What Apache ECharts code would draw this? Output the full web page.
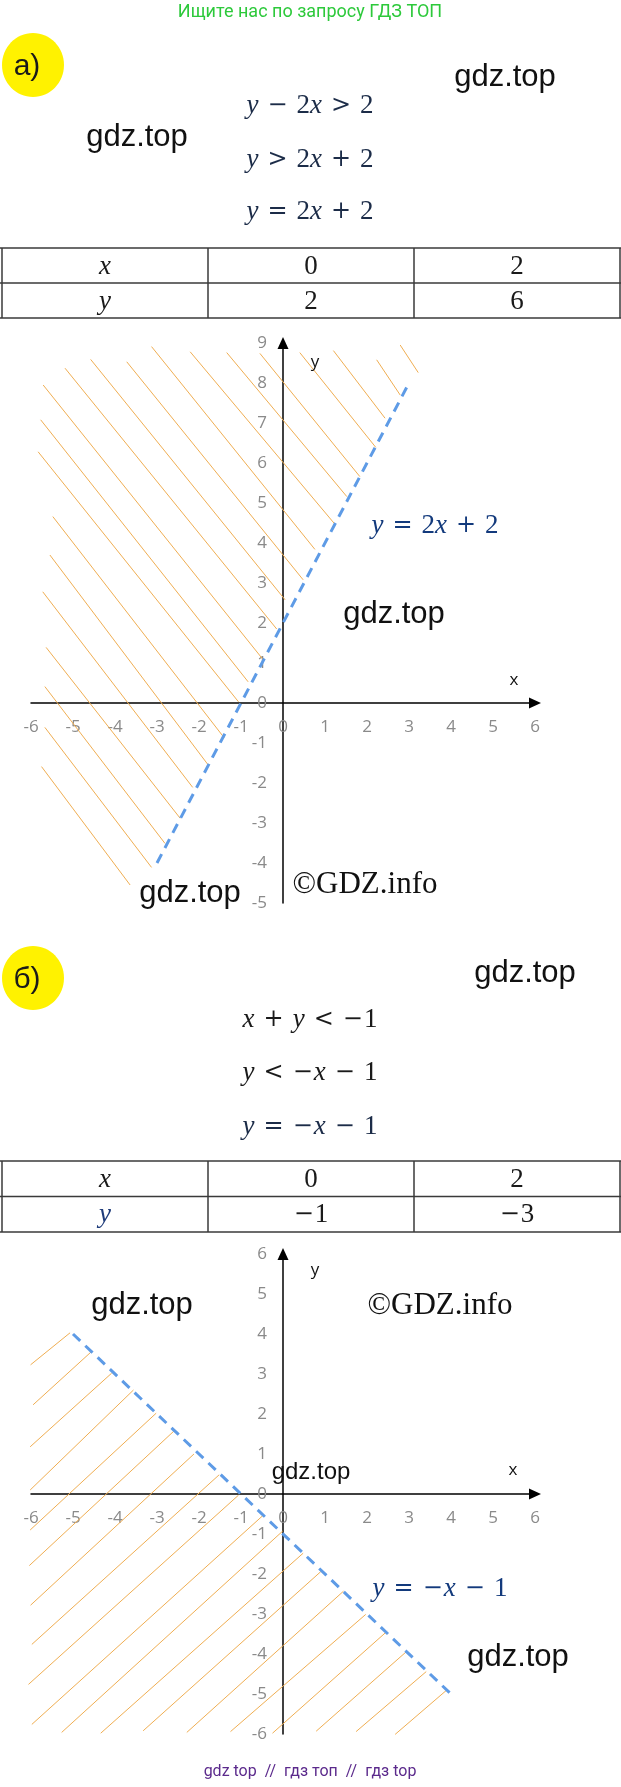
<!DOCTYPE html>
<html><head><meta charset="utf-8">
<script src="https://cdn.jsdelivr.net/npm/echarts@6/dist/echarts.min.js"></script>
<style>html,body{margin:0;padding:0;background:#fff}#c{width:621px;height:1787px}</style>
</head><body><div id="c"></div>
<script>
// ---- data ----
const xRange = [-6, 6];
const yRangeA = [-5, 9];
const yRangeB = [-6, 6];
const boundaryA = [[-3, -4], [3, 8]];
const boundaryB = [[-5, 4], [4, -5]];
const hatchA = [
  [2.79, 8.95, 3.22, 8.26], [2.23, 8.58, 2.79, 7.70], [1.20, 8.81, 2.43, 7.12],
  [0.40, 8.76, 2.21, 6.39], [-0.55, 8.74, 1.83, 5.66], [-1.34, 8.76, 1.52, 5.16],
  [-2.21, 8.78, 1.22, 4.49], [-3.13, 8.91, 0.76, 3.84], [-3.72, 8.53, 0.48, 3.08],
  [-4.58, 8.59, 0.05, 2.58], [-5.19, 8.37, -0.15, 1.85], [-5.71, 7.95, -0.47, 1.08],
  [-5.77, 7.08, -0.83, 0.53], [-5.83, 6.28, -1.06, 0.03], [-5.48, 4.66, -1.40, -0.87],
  [-5.55, 3.70, -1.78, -1.55], [-5.72, 2.78, -2.15, -2.11], [-5.64, 1.39, -2.45, -2.88],
  [-5.67, 0.41, -2.81, -3.51], [-5.67, -0.61, -3.13, -4.11], [-5.75, -1.59, -3.64, -4.55]
];
const hatchB = [
  [-6.01, 3.23, -5.07, 4.03], [-5.95, 2.23, -4.56, 3.56], [-6.02, 1.18, -4.08, 3.02],
  [-6.02, 0.10, -3.56, 2.60], [-6.02, -0.90, -3.02, 2.02], [-6.04, -1.79, -2.57, 1.60],
  [-6.01, -2.78, -2.12, 1.00], [-5.98, -3.76, -1.52, 0.48], [-6.06, -4.76, -1.06, -0.03],
  [-5.98, -5.76, -0.47, -0.53], [-5.27, -5.96, -0.01, -0.93], [-4.34, -5.98, 0.48, -1.48],
  [-3.33, -5.92, 0.90, -1.94], [-2.29, -5.96, 1.44, -2.43], [-1.25, -5.94, 1.97, -3.01],
  [-0.25, -5.98, 2.48, -3.43], [0.79, -5.93, 2.95, -3.93], [1.74, -5.94, 3.41, -4.44],
  [2.67, -6.01, 3.90, -4.90]
];
const tableA = [['x', '0', '2'], ['y', '2', '6']];
const tableB = [['x', '0', '2'], ['y', '−1', '−3']];
const eqA = ['y − 2x > 2', 'y > 2x + 2', 'y = 2x + 2'];
const eqB = ['x + y < −1', 'y < −x − 1', 'y = −x − 1'];
const lineLabelA = 'y = 2x + 2';
const lineLabelB = 'y = −x − 1';
const headerText = 'Ищите нас по запросу ГДЗ ТОП';
const footerText = 'gdz top  //  гдз топ  //  гдз top';

// ---- layout ----
const gridA = {left: 31, top: 343, width: 504, height: 560};
const gridB = {left: 31, top: 1254, width: 504, height: 480};

// ---- helpers ----
const SERIF = '"Liberation Serif", "DejaVu Serif", serif';
const OPFONT = '"DejaVu Serif", "Liberation Serif", serif';
const SANS = '"Liberation Sans", Arial, sans-serif';
function toRich(str) {
  const chars = str.replace(/ /g, '').split('');
  let out = '';
  let prevOp = true;
  for (const c of chars) {
    if (/[a-z]/.test(c)) { out += '{v|' + c + '}'; prevOp = false; }
    else if (/[0-9]/.test(c)) { out += '{n|' + c + '}'; prevOp = false; }
    else { out += prevOp ? '{u|' + c + '}' : '{o|' + c + '}'; prevOp = true; }
  }
  return out;
}
function richStyles(size, color) {
  return {
    v: {fontFamily: SERIF, fontStyle: 'italic', fontSize: size, fill: color},
    n: {fontFamily: SERIF, fontSize: size, fill: color},
    u: {fontFamily: OPFONT, fontSize: size - 3, fill: color, padding: [0, 1, 0, 0]},
    o: {fontFamily: OPFONT, fontSize: size - 3, fill: color, padding: [0, 9]}
  };
}
function mathText(str, x, y, size, color) {
  return {type: 'text', z: 50, style: {text: toRich(str), x: x, y: y, align: 'center', verticalAlign: 'middle', rich: richStyles(size, color)}};
}
function plainText(str, x, y, font, color, z) {
  return {type: 'text', z: z || 50, style: {text: str, x: x, y: y, font: font, fill: color, align: 'center', verticalAlign: 'middle'}};
}
function tableGraphics(tbl, top, rowH, textColors) {
  const cols = [2, 208, 414, 620];
  const els = [];
  const lc = '#3a3a3a';
  for (let r = 0; r <= tbl.length; r++) {
    els.push({type: 'line', z: 40, shape: {x1: 0, y1: top + r * rowH, x2: 621, y2: top + r * rowH}, style: {stroke: lc, lineWidth: 1.5}});
  }
  cols.forEach(cx => els.push({type: 'line', z: 40, shape: {x1: cx, y1: top, x2: cx, y2: top + tbl.length * rowH}, style: {stroke: lc, lineWidth: 1.5}}));
  tbl.forEach((row, r) => row.forEach((cell, c) => {
    const cxm = (cols[c] + cols[c + 1]) / 2;
    const cym = top + r * rowH + rowH / 2 + 1;
    const color = (textColors && textColors[r] && textColors[r][c]) || '#1a1a1a';
    els.push(mathText(cell, cxm, cym, 27, color));
  }));
  return els;
}

// place each axis line through the other axis' zero using offset
function axesFor(gridIndex, grid, yr) {
  const xUnit = grid.width / (xRange[1] - xRange[0]);
  const yUnit = grid.height / (yr[1] - yr[0]);
  const zeroXpx = grid.left + (0 - xRange[0]) * xUnit;   // where y axis sits
  const zeroYpx = grid.top + (yr[1] - 0) * yUnit;        // where x axis sits
  const common = {
    type: 'value', gridIndex: gridIndex, interval: 1,
    axisLine: {onZero: false, symbol: ['none', 'triangle'], symbolSize: [11, 12], lineStyle: {color: '#000', width: 1.5}},
    axisTick: {show: false}, splitLine: {show: false},
    axisLabel: {color: '#8a8a8a', fontSize: 17, fontFamily: '"Open Sans", sans-serif'}
  };
  return {
    x: Object.assign({}, common, {min: xRange[0], max: xRange[1], position: 'bottom',
      offset: -((grid.top + grid.height) - zeroYpx),
      axisLabel: Object.assign({}, common.axisLabel, {margin: 16})}),
    y: Object.assign({}, common, {min: yr[0], max: yr[1], position: 'left',
      offset: -(zeroXpx - grid.left),
      axisLabel: Object.assign({}, common.axisLabel, {margin: 16})})
  };
}
const axA = axesFor(0, gridA, yRangeA), axB = axesFor(1, gridB, yRangeB);
const hatchColor = '#F0AE52';
const dashColor = '#5E9BE6';

function hatchSeries(segs, idx) {
  return {
    type: 'lines', coordinateSystem: 'cartesian2d', xAxisIndex: idx, yAxisIndex: idx,
    clip: false, silent: true, z: 1,
    lineStyle: {color: hatchColor, width: 1, opacity: 1, curveness: 0},
    data: segs.map(s => ({coords: [[s[0], s[1]], [s[2], s[3]]]}))
  };
}
function boundarySeries(pts, idx) {
  return {
    type: 'line', xAxisIndex: idx, yAxisIndex: idx, data: pts, showSymbol: false, symbol: 'none', clip: false, z: 3,
    lineStyle: {color: dashColor, width: 3, type: [10, 7]}
  };
}

const graphics = [
  plainText(headerText, 310, 12, '18px Roboto, sans-serif', '#2DC93B'),
  // part a
  {type: 'ellipse', z: 30, shape: {cx: 33, cy: 65, rx: 31, ry: 32}, style: {fill: '#FFF200'}},
  plainText('а)', 27, 67, '30px "Liberation Sans", Arial, sans-serif', '#1a1a1a'),
  plainText('gdz.top', 505, 77, '31px ' + SANS, '#111'),
  plainText('gdz.top', 137, 137, '31px ' + SANS, '#111'),
  mathText(eqA[0], 310, 106, 27, '#1c2c48'),
  mathText(eqA[1], 310, 160, 27, '#1c2c48'),
  mathText(eqA[2], 310, 212, 27, '#1c2c48'),
  ...tableGraphics(tableA, 248, 35),
  plainText('y', 315, 362, '17px "Open Sans", sans-serif', '#111'),
  plainText('x', 514, 680, '17px "Open Sans", sans-serif', '#111'),
  mathText(lineLabelA, 435, 526, 27, '#133a7c'),
  plainText('gdz.top', 394, 614, '31px ' + SANS, '#111'),
  plainText('gdz.top', 190, 893, '31px ' + SANS, '#111'),
  plainText('©GDZ.info', 365, 885, '31px ' + SERIF, '#111'),
  // part b
  {type: 'ellipse', z: 30, shape: {cx: 33, cy: 978, rx: 31, ry: 32}, style: {fill: '#FFF200'}},
  plainText('б)', 27, 980, '30px "Liberation Sans", Arial, sans-serif', '#1a1a1a'),
  plainText('gdz.top', 525, 973, '31px ' + SANS, '#111'),
  mathText(eqB[0], 310, 1020, 27, '#1a1a1a'),
  mathText(eqB[1], 310, 1073, 27, '#1a1a1a'),
  mathText(eqB[2], 310, 1127, 27, '#1c2c48'),
  ...tableGraphics(tableB, 1161, 35.5, [null, ['#1f3c7a', null, null]]),
  plainText('y', 315, 1270, '17px "Open Sans", sans-serif', '#111'),
  plainText('x', 513, 1470, '17px "Open Sans", sans-serif', '#111'),
  plainText('gdz.top', 142, 1305, '31px ' + SANS, '#111'),
  plainText('©GDZ.info', 440, 1306, '31px ' + SERIF, '#111'),
  plainText('gdz.top', 311, 1472, '24px ' + SANS, '#111'),
  mathText(lineLabelB, 440, 1589, 27, '#133a7c'),
  plainText('gdz.top', 518, 1657, '31px ' + SANS, '#111'),
  plainText(footerText, 310, 1772, '16px Roboto, sans-serif', '#5b2a8c')
];

const chart = echarts.init(document.getElementById('c'), null, {renderer: 'canvas', width: 621, height: 1787});
chart.setOption({
  animation: false,
  backgroundColor: '#fff',
  grid: [gridA, gridB],
  xAxis: [axA.x, axB.x],
  yAxis: [axA.y, axB.y],
  series: [
    hatchSeries(hatchA, 0), boundarySeries(boundaryA, 0),
    hatchSeries(hatchB, 1), boundarySeries(boundaryB, 1)
  ],
  graphic: graphics
});
</script></body></html>
